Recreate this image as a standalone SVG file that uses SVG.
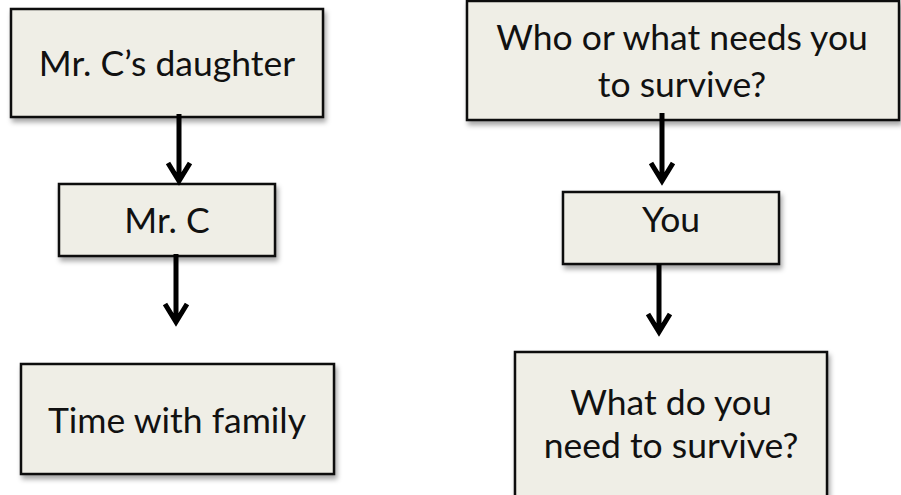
<svg xmlns="http://www.w3.org/2000/svg" width="901" height="495" viewBox="0 0 901 495">
<defs>
<filter id="sh" x="-10%" y="-10%" width="130%" height="140%">
<feDropShadow dx="2" dy="4" stdDeviation="2.5" flood-color="#000" flood-opacity="0.35"/>
</filter>
</defs>
<style>
.box{fill:#EFEEE6;stroke:#111;stroke-width:2.5;filter:url(#sh)}
.t{font-family:Lato,"Noto Sans",sans-serif;font-size:35.5px;fill:#111;text-anchor:middle}
.c{fill:none;stroke:#000;stroke-width:5}
</style>
<rect width="901" height="495" fill="#fff"/>
<g id="n1"><rect class="box" x="11" y="9" width="312" height="108"/><text class="t" x="167" y="76">Mr. C’s daughter</text></g>
<g id="n2"><rect class="box" x="59" y="184" width="216" height="72"/><text class="t" x="167" y="233">Mr. C</text></g>
<g id="n3"><rect class="box" x="21" y="364" width="313" height="110"/><text class="t" x="177" y="433">Time with family</text></g>
<g id="n4"><rect class="box" x="467" y="1" width="432" height="119"/><text class="t" x="682" y="50">Who or what needs you</text><text class="t" x="682" y="97">to survive?</text></g>
<g id="n5"><rect class="box" x="563" y="192" width="216" height="72"/><text class="t" x="671" y="232">You</text></g>
<g id="n6"><rect class="box" x="515" y="352" width="312" height="150"/><text class="t" x="671" y="415">What do you</text><text class="t" x="671" y="458">need to survive?</text></g>
<g id="connectors">
<path class="c" d="M179 114V181M168 163L179 181L190 163"/>
<path class="c" d="M176 254V322M165 304L176 322L187 304"/>
<path class="c" d="M662 113V181M651 163L662 181L673 163"/>
<path class="c" d="M659 264V332M648 314L659 332L670 314"/>
</g>
</svg>
